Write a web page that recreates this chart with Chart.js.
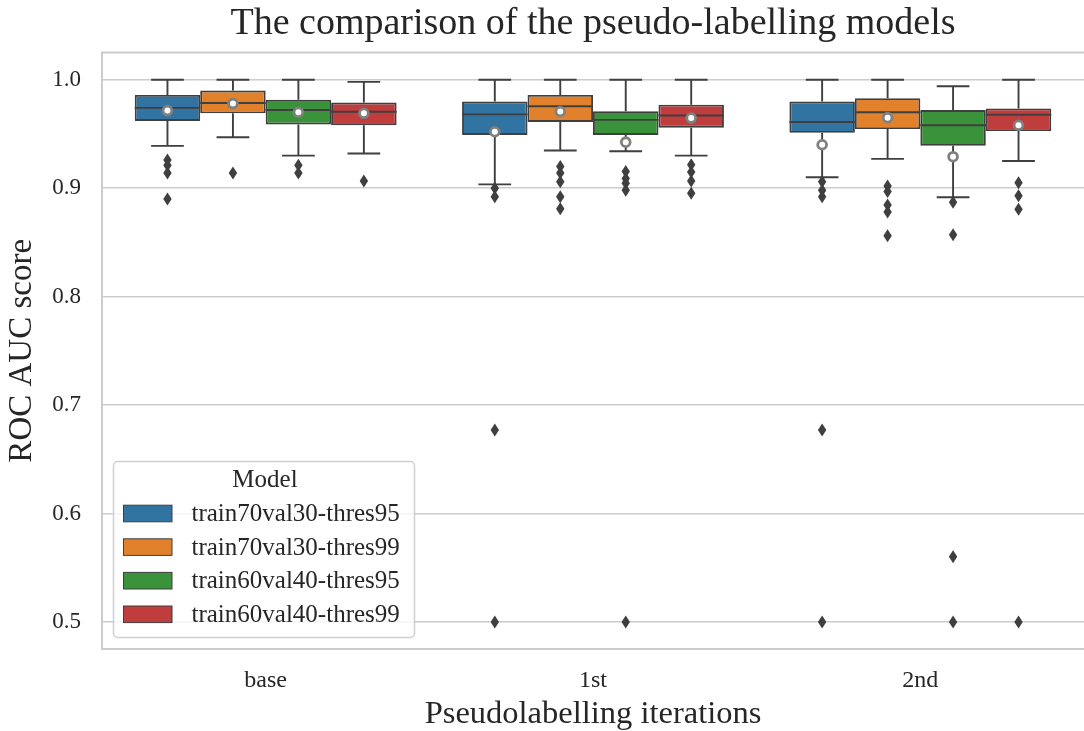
<!DOCTYPE html>
<html>
<head>
<meta charset="utf-8">
<script src="https://cdn.jsdelivr.net/npm/chart.js@4.4.1/dist/chart.umd.min.js"></script>
<style>
  html, body { margin: 0; padding: 0; background: #ffffff; overflow: hidden; }
  #wrap { width: 1084px; height: 731px; position: relative; }
</style>
</head>
<body>
<div id="wrap"><canvas id="chart" width="1084" height="731"></canvas></div>
<script>
// Pseudo-labelling iterations on the x axis
const categories = ['base', '1st', '2nd'];

// One box per model in every iteration group
const models = [
  'train70val30-thres95',
  'train70val30-thres99',
  'train60val40-thres95',
  'train60val40-thres99'
];
const modelColors = ['#3274a1', '#e1812c', '#3a923a', '#c03d3e'];

// Box statistics, one row per model, one column per iteration
const whiskerHigh = [
  [1.000, 1.000, 1.000],
  [1.000, 1.000, 1.000],
  [1.000, 1.000, 0.994],
  [0.998, 1.000, 1.000]
];
const upperQuartile = [
  [0.986, 0.980, 0.980],
  [0.990, 0.986, 0.983],
  [0.9815, 0.971, 0.972],
  [0.979, 0.977, 0.9735]
];
const medians = [
  [0.974, 0.968, 0.961],
  [0.9785, 0.9755, 0.970],
  [0.972, 0.963, 0.958],
  [0.9705, 0.967, 0.9677]
];
const lowerQuartile = [
  [0.962, 0.949, 0.951],
  [0.969, 0.961, 0.9545],
  [0.9587, 0.949, 0.939],
  [0.958, 0.9557, 0.9526]
];
const whiskerLow = [
  [0.939, 0.9035, 0.910],
  [0.947, 0.9347, 0.927],
  [0.930, 0.934, 0.8916],
  [0.932, 0.930, 0.925]
];
const means = [
  [0.9715, 0.952, 0.940],
  [0.978, 0.9707, 0.965],
  [0.970, 0.9424, 0.929],
  [0.969, 0.9646, 0.958]
];
const outliers = [
  [[0.926, 0.921, 0.914, 0.890], [0.900, 0.892, 0.677, 0.500], [0.906, 0.898, 0.892, 0.677, 0.500]],
  [[0.914], [0.920, 0.914, 0.906, 0.892, 0.881], [0.902, 0.897, 0.8845, 0.878, 0.856]],
  [[0.921, 0.914], [0.9153, 0.909, 0.9045, 0.898, 0.500], [0.887, 0.857, 0.560, 0.500]],
  [[0.9067], [0.9215, 0.915, 0.9067, 0.8953], [0.905, 0.893, 0.8806, 0.500]]
];

// Y axis ticks and range
const yTicks = [0.5, 0.6, 0.7, 0.8, 0.9, 1.0];
const yMin = 0.475;
const yMax = 1.025;

const FONT = "'Liberation Serif', 'DejaVu Serif', serif";
const TEXT = '#262626';
const LINE = '#3f3f3f';
const GRID = '#cccccc';

// Whiskers, caps, medians, means and fliers drawn on top of the box bars
const boxExtras = {
  id: 'boxExtras',
  afterDatasetsDraw(chart) {
    const ctx = chart.ctx;
    const y = chart.scales.y;
    ctx.save();
    chart.data.datasets.forEach((ds, i) => {
      const meta = chart.getDatasetMeta(i);
      meta.data.forEach((bar, j) => {
        const x = bar.x;
        const half = bar.width / 2;
        const capHalf = bar.width / 4;
        ctx.strokeStyle = LINE;
        ctx.lineWidth = 1.9;
        ctx.lineCap = 'butt';
        // whiskers
        ctx.beginPath();
        ctx.moveTo(x, y.getPixelForValue(upperQuartile[i][j]));
        ctx.lineTo(x, y.getPixelForValue(whiskerHigh[i][j]));
        ctx.moveTo(x, y.getPixelForValue(lowerQuartile[i][j]));
        ctx.lineTo(x, y.getPixelForValue(whiskerLow[i][j]));
        ctx.stroke();
        // caps
        ctx.beginPath();
        const yh = y.getPixelForValue(whiskerHigh[i][j]);
        const yl = y.getPixelForValue(whiskerLow[i][j]);
        ctx.moveTo(x - capHalf, yh); ctx.lineTo(x + capHalf, yh);
        ctx.moveTo(x - capHalf, yl); ctx.lineTo(x + capHalf, yl);
        ctx.stroke();
        // median
        const ym = y.getPixelForValue(medians[i][j]);
        ctx.beginPath();
        ctx.moveTo(x - half, ym); ctx.lineTo(x + half, ym);
        ctx.stroke();
        // fliers (thin diamonds)
        ctx.fillStyle = LINE;
        outliers[i][j].forEach(v => {
          const py = y.getPixelForValue(v);
          ctx.beginPath();
          ctx.moveTo(x, py - 6.5);
          ctx.lineTo(x + 4.2, py);
          ctx.lineTo(x, py + 6.5);
          ctx.lineTo(x - 4.2, py);
          ctx.closePath();
          ctx.fill();
        });
        // mean marker
        const yMean = y.getPixelForValue(means[i][j]);
        ctx.beginPath();
        ctx.arc(x, yMean, 4.4, 0, Math.PI * 2);
        ctx.fillStyle = '#ffffff';
        ctx.fill();
        ctx.lineWidth = 2.8;
        ctx.strokeStyle = '#808080';
        ctx.stroke();
      });
    });
    ctx.restore();
  }
};

// Top spine of the axes frame
const topSpine = {
  id: 'topSpine',
  beforeDatasetsDraw(chart) {
    const { ctx, chartArea } = chart;
    ctx.save();
    ctx.strokeStyle = GRID;
    ctx.lineWidth = 2;
    ctx.beginPath();
    ctx.moveTo(chartArea.left - 1, chartArea.top);
    ctx.lineTo(chartArea.right, chartArea.top);
    ctx.stroke();
    ctx.restore();
  }
};

// Legend box in the lower-left corner of the plot area
const modelLegend = {
  id: 'modelLegend',
  afterDraw(chart) {
    const { ctx, chartArea } = chart;
    const left = chartArea.left + 11.5;
    const bottom = chartArea.bottom - 11.5;
    const w = 301, h = 176;
    const top = bottom - h;
    ctx.save();
    ctx.beginPath();
    ctx.roundRect(left, top, w, h, 4);
    ctx.fillStyle = 'rgba(255,255,255,0.8)';
    ctx.fill();
    ctx.strokeStyle = '#d0d0d0';
    ctx.lineWidth = 1.5;
    ctx.stroke();

    ctx.fillStyle = TEXT;
    ctx.textBaseline = 'middle';
    ctx.textAlign = 'center';
    ctx.font = '25px ' + FONT;
    ctx.fillText('Model', left + 151.5, top + 19);

    ctx.textAlign = 'left';
    chart.data.datasets.forEach((ds, i) => {
      const cy = top + 52 + i * 33.6;
      ctx.fillStyle = ds.backgroundColor;
      ctx.fillRect(left + 10, cy - 8.3, 48.5, 16.6);
      ctx.strokeStyle = LINE;
      ctx.lineWidth = 1;
      ctx.strokeRect(left + 10, cy - 8.3, 48.5, 16.6);
      ctx.fillStyle = TEXT;
      ctx.fillText(ds.label, left + 78, cy + 1);
    });
    ctx.restore();
  }
};

const datasets = models.map((name, i) => ({
  label: name,
  data: categories.map((_, j) => [lowerQuartile[i][j], upperQuartile[i][j]]),
  backgroundColor: modelColors[i],
  borderColor: LINE,
  borderWidth: 1.9,
  borderSkipped: false,
  categoryPercentage: 0.8,
  barPercentage: 1.0
}));

new Chart(document.getElementById('chart'), {
  type: 'bar',
  data: { labels: categories, datasets },
  plugins: [topSpine, boxExtras, modelLegend],
  options: {
    responsive: false,
    animation: false,
    events: [],
    layout: { padding: { left: 0, right: 0, top: 0, bottom: 0 } },
    plugins: {
      legend: { display: false },
      tooltip: { enabled: false },
      title: {
        display: true,
        fullSize: false,
        text: 'The comparison of the pseudo-labelling models',
        color: TEXT,
        font: { family: FONT, size: 38, weight: 'normal', lineHeight: 1.2 },
        padding: { top: 1, bottom: 6 }
      }
    },
    scales: {
      x: {
        type: 'category',
        grid: { display: false, drawTicks: false },
        border: { display: true, color: GRID, width: 2 },
        ticks: { color: TEXT, font: { family: FONT, size: 24 }, padding: 17 },
        title: {
          display: true,
          text: 'Pseudolabelling iterations',
          color: TEXT,
          font: { family: FONT, size: 32.5, lineHeight: 1.0 },
          padding: { top: 0, bottom: 0 }
        },
        afterFit(scale) { scale.height = 82; }
      },
      y: {
        type: 'linear',
        min: yMin,
        max: yMax,
        afterBuildTicks(scale) { scale.ticks = yTicks.map(v => ({ value: v })); },
        grid: { color: GRID, lineWidth: 1.6, drawTicks: false },
        border: { display: true, color: GRID, width: 2 },
        ticks: {
          color: TEXT,
          font: { family: FONT, size: 23 },
          padding: 21,
          callback: v => Number(v).toFixed(1)
        },
        title: {
          display: true,
          text: 'ROC AUC score',
          color: TEXT,
          font: { family: FONT, size: 33, lineHeight: 1.0 },
          padding: { top: 6, bottom: 0 }
        },
        afterFit(scale) { scale.width = 102; }
      }
    }
  }
});
</script>
</body>
</html>
